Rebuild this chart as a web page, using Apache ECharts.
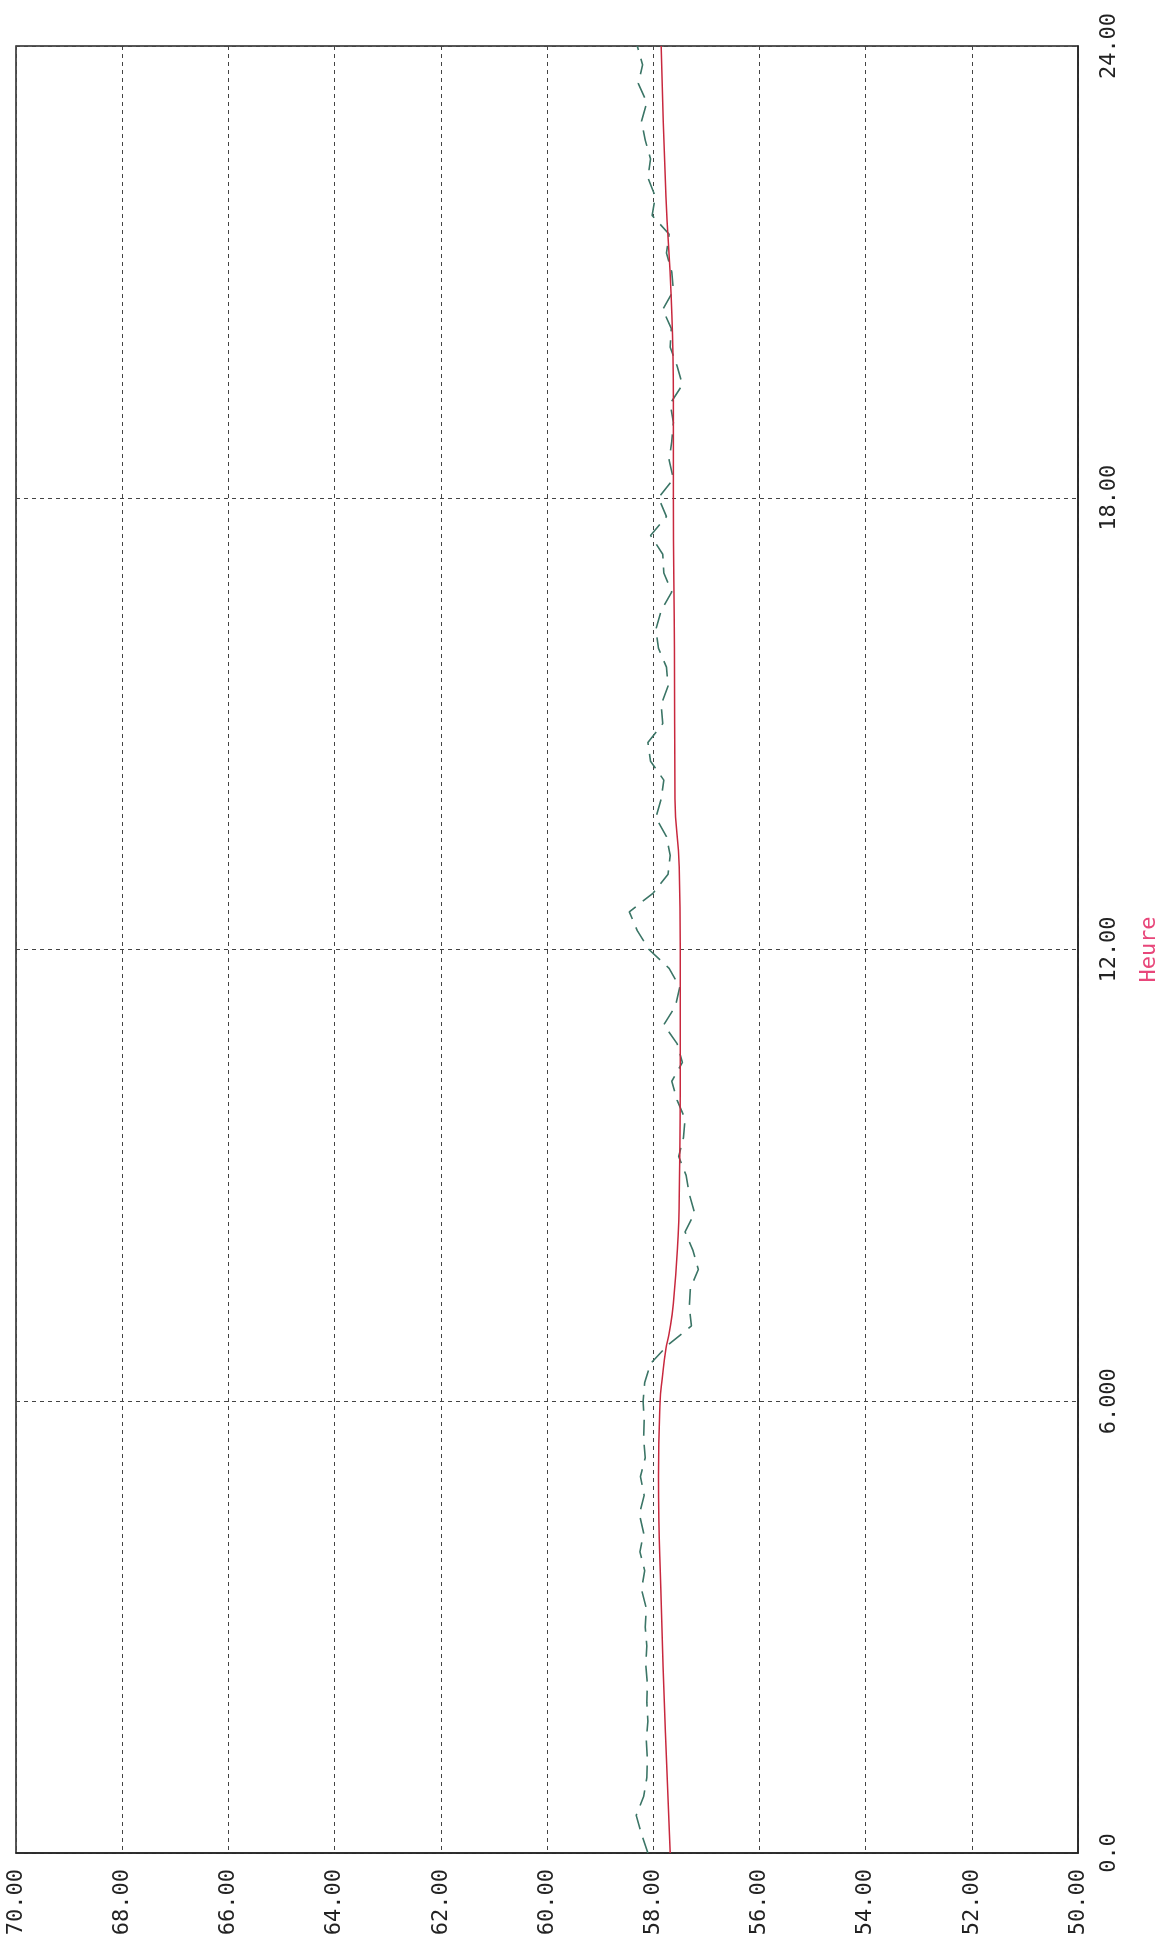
<!DOCTYPE html>
<html>
<head>
<meta charset="utf-8">
<script src="https://cdn.jsdelivr.net/npm/echarts@6/dist/echarts.min.js"></script>
<style>
html,body{margin:0;padding:0;background:#fff;}
#chart{width:1160px;height:1954px;}
</style>
</head>
<body>
<div id="chart"></div>
<script>
// Hour axis ticks and their printed labels
const hourTicks = [0, 6, 12, 18, 24];
const hourTickLabels = ['0.0', '6.000', '12.00', '18.00', '24.00'];
// Value axis ticks
const valueTicks = [50, 52, 54, 56, 58, 60, 62, 64, 66, 68, 70];
const valueTickLabels = ['50.00', '52.00', '54.00', '56.00', '58.00', '60.00', '62.00', '64.00', '66.00', '68.00', '70.00'];

// Red (smoothed) series
const redHours = [0, 1.6, 3.35, 5, 6, 6.3, 6.7, 6.9, 7.3, 8.2, 8.7, 10.4, 12, 13.1, 14, 16, 18, 19.3, 20.65, 22, 24];
const redValues = [57.68, 57.77, 57.85, 57.9, 57.87, 57.83, 57.76, 57.70, 57.62, 57.53, 57.51, 57.49, 57.49, 57.51, 57.59, 57.60, 57.62, 57.62, 57.66, 57.76, 57.85];

// Green (raw, dashed) series
const greenHours = [
  0, 0.25, 0.5, 0.75, 1, 1.25, 1.5, 1.75, 2, 2.25, 2.5, 2.75, 3, 3.25,
  3.5, 3.75, 4, 4.25, 4.5, 4.75, 5, 5.25, 5.5, 5.75, 6, 6.25,
  6.5, 6.75, 7, 7.25, 7.5, 7.75, 8, 8.25, 8.5, 8.75, 9, 9.25, 9.5, 9.75,
  10, 10.25, 10.5, 10.75, 11, 11.25, 11.5, 11.75, 12, 12.25, 12.5, 12.75,
  13, 13.25, 13.5, 13.75, 14, 14.25, 14.5, 14.75, 15, 15.25, 15.5, 15.75,
  16, 16.25, 16.5, 16.75, 17, 17.25, 17.5, 17.75, 18, 18.25, 18.5, 18.75,
  19, 19.25, 19.5, 19.75, 20, 20.25, 20.5, 20.75, 21, 21.25, 21.5, 21.75,
  22, 22.25, 22.5, 22.75, 23, 23.25, 23.5, 23.75, 24
];
const greenValues = [
  58.10, 58.22, 58.32, 58.18, 58.12, 58.11, 58.13, 58.10, 58.12, 58.11, 58.14, 58.12, 58.15, 58.13,
  58.22, 58.16, 58.25, 58.18, 58.26, 58.17, 58.24, 58.15, 58.18, 58.17, 58.19, 58.16,
  58.05, 57.72, 57.28, 57.32, 57.30, 57.15, 57.25, 57.40, 57.22, 57.32, 57.38, 57.52, 57.43, 57.40,
  57.55, 57.65, 57.45, 57.55, 57.80, 57.58, 57.50, 57.70, 58.08, 58.30, 58.45, 58.00,
  57.72, 57.68, 57.75, 57.95, 57.85, 57.80, 58.05, 58.10, 57.82, 57.85, 57.72, 57.75,
  57.90, 57.95, 57.85, 57.65, 57.80, 57.82, 58.05, 57.75, 57.90, 57.62, 57.70, 57.65,
  57.62, 57.68, 57.45, 57.55, 57.68, 57.66, 57.82, 57.62, 57.65, 57.75, 57.70, 58.02,
  57.96, 58.10, 58.05, 58.15, 58.22, 58.12, 58.28, 58.20, 58.30
];

const redData = redHours.map((h, i) => [redValues[i], h]);
const greenData = greenHours.map((h, i) => [greenValues[i], h]);

const chart = echarts.init(document.getElementById('chart'), null, {renderer: 'canvas'});
const labelFont = {fontFamily: 'DejaVu Sans Mono', fontSize: 22, color: '#222'};
const gridLine = {show: true, lineStyle: {color: '#444', width: 1, type: [4, 4]}};

chart.setOption({
  animation: false,
  backgroundColor: '#fff',
  grid: {left: 16, right: 82, top: 46, bottom: 101, containLabel: false, outerBoundsMode: 'none',
    show: true, borderColor: '#222', borderWidth: 1.5, backgroundColor: 'transparent'},
  xAxis: {
    type: 'value', min: 50, max: 70, interval: 2, inverse: true, position: 'bottom',
    axisLine: {show: true, lineStyle: {color: '#222', width: 1.5}},
    axisTick: {show: false},
    splitLine: gridLine,
    axisLabel: Object.assign({rotate: 90, margin: 16,
      formatter: v => valueTickLabels[valueTicks.indexOf(v)] || ''}, labelFont)
  },
  yAxis: {
    type: 'value', min: 0, max: 24, interval: 6, position: 'right',
    name: 'Heure', nameLocation: 'middle', nameRotate: 90, nameGap: 60,
    nameTextStyle: {color: '#e8467a', fontFamily: 'DejaVu Sans Mono', fontSize: 22},
    axisLine: {show: true, lineStyle: {color: '#222', width: 1.5}},
    axisTick: {show: false},
    splitLine: gridLine,
    axisLabel: Object.assign({rotate: 90, margin: 20,
      formatter: v => hourTickLabels[hourTicks.indexOf(v)] || ''}, labelFont)
  },
  series: [
    {
      type: 'line', data: greenData, symbol: 'none', smooth: false,
      lineStyle: {color: '#3b7566', width: 1.6, type: [16, 9]}, z: 2
    },
    {
      type: 'line', data: redData, symbol: 'none', smooth: true,
      lineStyle: {color: '#c8283e', width: 1.5}, z: 3
    }
  ]
});
</script>
</body>
</html>
